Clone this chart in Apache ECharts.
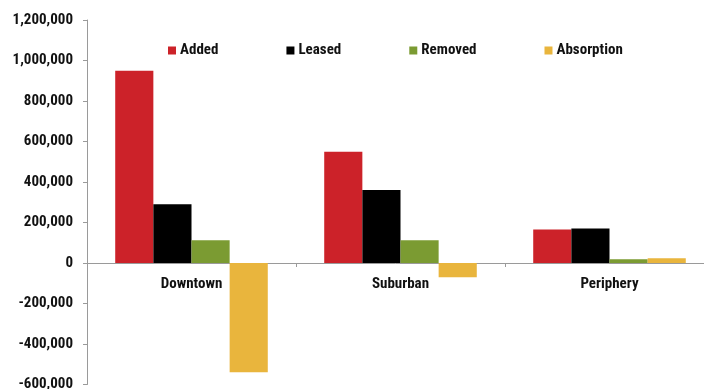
<!DOCTYPE html>
<html>
<head>
<meta charset="utf-8">
<script src="https://cdn.jsdelivr.net/npm/echarts@6/dist/echarts.min.js"></script>
<style>
  html, body { margin: 0; padding: 0; background: #ffffff; }
  #chart { width: 704px; height: 389px; }
</style>
</head>
<body>
<div id="chart"></div>
<script>
// Office space by market (sq ft)
const categories = ['Downtown', 'Suburban', 'Periphery'];
const added = [950000, 550000, 165000];
const leased = [290000, 360000, 170000];
const removed = [112000, 112000, 18000];
const absorption = [-540000, -70000, 23000];
const yTicks = { min: -600000, max: 1200000, step: 200000 };

const FONT = "'Roboto Condensed', 'DejaVu Sans Condensed', Arial, sans-serif";
const AXIS_GREY = '#9a9a9a';

// grid geometry: the category axis sits on the zero line
const GRID = { left: 87, right: -10, top: 20, bottom: 4.5 };
const plotH = 389 - GRID.top - GRID.bottom;
const zeroFromBottom = plotH * (0 - yTicks.min) / (yTicks.max - yTicks.min);

function bar(name, data, color) {
  return {
    name: name,
    type: 'bar',
    data: data,
    barGap: '0%',
    barCategoryGap: '27%',
    itemStyle: { color: color },
    emphasis: { disabled: true }
  };
}

const chart = echarts.init(document.getElementById('chart'), null, { renderer: 'canvas' });
chart.setOption({
  animation: false,
  backgroundColor: '#ffffff',
  legend: {
    top: 38,
    left: 163,
    itemWidth: 8,
    itemHeight: 8,
    itemGap: 68,
    icon: 'rect',
    textStyle: { fontFamily: FONT, fontWeight: 'bold', fontSize: 15, color: '#111', padding: [0, 0, 0, -1] },
    data: ['Added', 'Leased', 'Removed', 'Absorption']
  },
  grid: Object.assign({ containLabel: false, outerBoundsMode: 'none' }, GRID),
  xAxis: {
    type: 'category',
    data: categories,
    position: 'bottom',
    offset: -zeroFromBottom,
    axisLine: { onZero: false, lineStyle: { color: AXIS_GREY, width: 1 } },
    axisTick: { show: true, length: 4, lineStyle: { color: AXIS_GREY } },
    axisLabel: { fontFamily: FONT, fontWeight: 'bold', fontSize: 15, color: '#111', margin: 14 },
    splitLine: { show: false }
  },
  yAxis: {
    type: 'value',
    min: yTicks.min,
    max: yTicks.max,
    interval: yTicks.step,
    axisLine: { show: true, lineStyle: { color: AXIS_GREY, width: 1 } },
    axisTick: { show: true, length: 4, lineStyle: { color: AXIS_GREY } },
    splitLine: { show: false },
    axisLabel: {
      fontFamily: FONT, fontWeight: 'bold', fontSize: 15, color: '#111', margin: 14,
      formatter: v => v.toLocaleString('en-US')
    }
  },
  series: [
    bar('Added', added, '#cc2229'),
    bar('Leased', leased, '#000000'),
    bar('Removed', removed, '#7b9b32'),
    bar('Absorption', absorption, '#e9b53d')
  ]
});
</script>
</body>
</html>
